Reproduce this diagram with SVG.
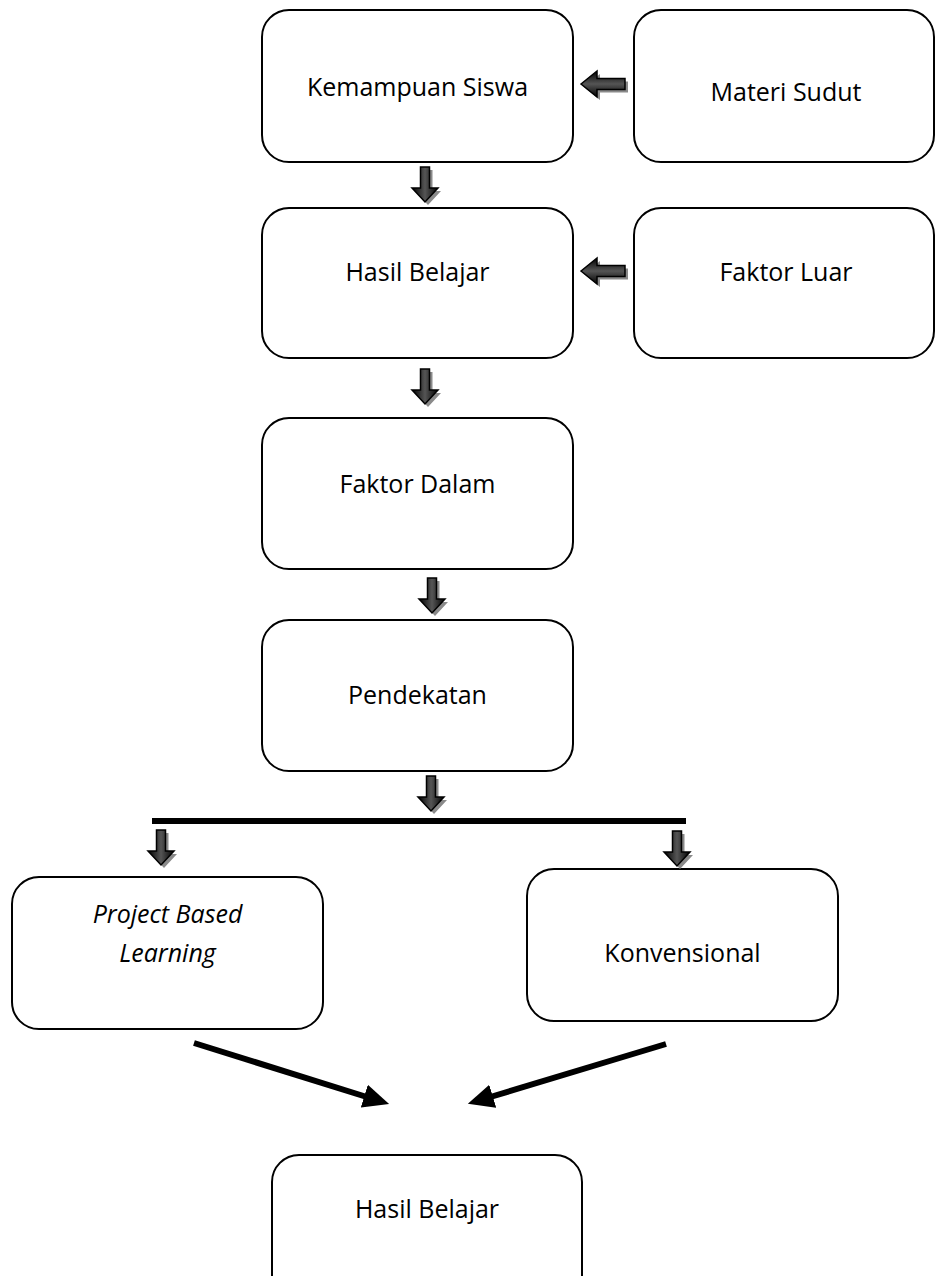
<svg xmlns="http://www.w3.org/2000/svg" width="935" height="1276" viewBox="0 0 935 1276">
  <style>
    .box { fill: #ffffff; stroke: #000000; stroke-width: 2; }
    .lbl { font-family: "Open Sans", "Noto Sans", "Liberation Sans", sans-serif; font-size: 25px; fill: #000000; text-anchor: middle; }
    .it { font-style: italic; }
    .conn { stroke: #000000; stroke-width: 6; fill: none; }
    .blk { fill: url(#gv); stroke: #000000; stroke-width: 1.5; }
    .blkh { fill: url(#gh); stroke: #000000; stroke-width: 1.5; }
    .shadow { fill: #8a8a8a; }
  </style>
  <defs>
    <linearGradient id="gv" x1="0" y1="0" x2="1" y2="0">
      <stop offset="0" stop-color="#000000"/>
      <stop offset="0.5" stop-color="#555555"/>
      <stop offset="1" stop-color="#000000"/>
    </linearGradient>
    <linearGradient id="gh" x1="0" y1="0" x2="0" y2="1">
      <stop offset="0" stop-color="#000000"/>
      <stop offset="0.5" stop-color="#555555"/>
      <stop offset="1" stop-color="#000000"/>
    </linearGradient>
    <path id="downArrow" d="M-4.5,0 H4.5 V21 H13 L0,35 L-13,21 H-4.5 Z"/>
    <path id="leftArrow" d="M0,0 L16,-13 V-5.5 H44 V5.5 H16 V13 Z"/>
    <marker id="head" markerUnits="userSpaceOnUse" markerWidth="28" markerHeight="24" refX="6" refY="12" orient="auto">
      <path d="M0,0 L26,12 L0,24 Z" fill="#000000"/>
    </marker>
  </defs>

  <g id="node-kemampuan">
    <rect class="box" x="262" y="10" width="311" height="152" rx="27" ry="27"/>
    <text class="lbl" x="417.5" y="96">Kemampuan Siswa</text>
  </g>
  <g id="node-materi">
    <rect class="box" x="634" y="10" width="300" height="152" rx="27" ry="27"/>
    <text class="lbl" x="786" y="101">Materi Sudut</text>
  </g>
  <g id="node-hasil1">
    <rect class="box" x="262" y="208" width="311" height="150" rx="27" ry="27"/>
    <text class="lbl" x="417.5" y="281">Hasil Belajar</text>
  </g>
  <g id="node-faktorluar">
    <rect class="box" x="634" y="208" width="300" height="150" rx="27" ry="27"/>
    <text class="lbl" x="786" y="281">Faktor Luar</text>
  </g>
  <g id="node-faktordalam">
    <rect class="box" x="262" y="418" width="311" height="151" rx="27" ry="27"/>
    <text class="lbl" x="417.5" y="493">Faktor Dalam</text>
  </g>
  <g id="node-pendekatan">
    <rect class="box" x="262" y="620" width="311" height="151" rx="27" ry="27"/>
    <text class="lbl" x="417.5" y="704">Pendekatan</text>
  </g>
  <g id="node-pbl">
    <rect class="box" x="12" y="877" width="311" height="152" rx="27" ry="27"/>
    <text class="lbl it" x="167.5" y="923">Project Based</text>
    <text class="lbl it" x="167.5" y="962">Learning</text>
  </g>
  <g id="node-konvensional">
    <rect class="box" x="527" y="869" width="311" height="152" rx="27" ry="27"/>
    <text class="lbl" x="682.5" y="962">Konvensional</text>
  </g>
  <g id="node-hasil2">
    <rect class="box" x="272" y="1155" width="310" height="152" rx="27" ry="27"/>
    <text class="lbl" x="427" y="1218">Hasil Belajar</text>
  </g>

  <g id="connectors">
    <use href="#leftArrow" class="shadow" transform="translate(584,87)"/>
    <use href="#leftArrow" class="blkh" transform="translate(581,84)"/>
    <use href="#leftArrow" class="shadow" transform="translate(584,274)"/>
    <use href="#leftArrow" class="blkh" transform="translate(581,271)"/>
    <use href="#downArrow" class="shadow" transform="translate(428,170)"/>
    <use href="#downArrow" class="blk" transform="translate(425,167)"/>
    <use href="#downArrow" class="shadow" transform="translate(428,372)"/>
    <use href="#downArrow" class="blk" transform="translate(425,369)"/>
    <use href="#downArrow" class="shadow" transform="translate(435,581)"/>
    <use href="#downArrow" class="blk" transform="translate(432,578)"/>
    <use href="#downArrow" class="shadow" transform="translate(434,779)"/>
    <use href="#downArrow" class="blk" transform="translate(431,776)"/>
    <line x1="152" y1="821" x2="686" y2="821" stroke="#000000" stroke-width="6"/>
    <use href="#downArrow" class="shadow" transform="translate(164,833)"/>
    <use href="#downArrow" class="blk" transform="translate(161,830)"/>
    <use href="#downArrow" class="shadow" transform="translate(680,834)"/>
    <use href="#downArrow" class="blk" transform="translate(677,831)"/>
    <line class="conn" x1="194" y1="1043" x2="370" y2="1098" marker-end="url(#head)"/>
    <line class="conn" x1="666" y1="1044" x2="487" y2="1098" marker-end="url(#head)"/>
  </g>
</svg>
